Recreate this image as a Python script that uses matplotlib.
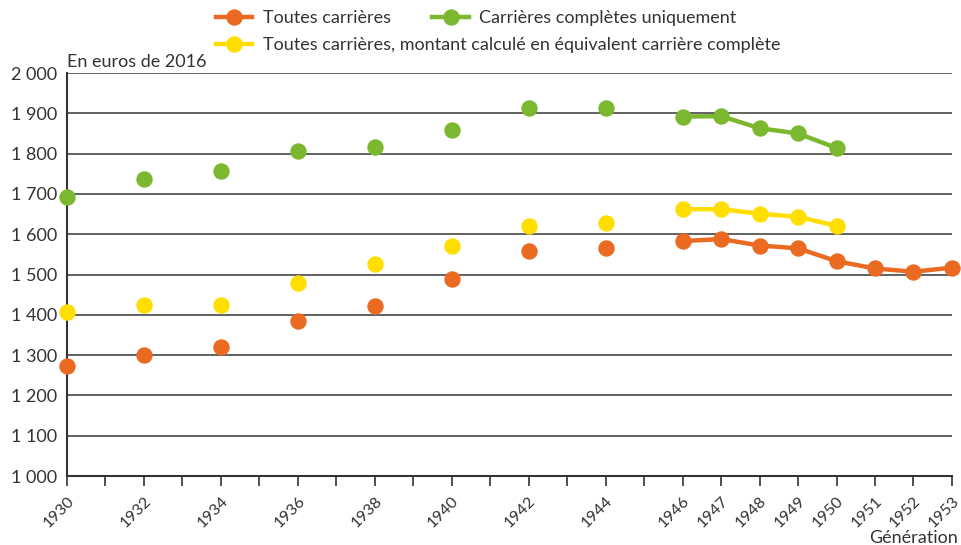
import numpy as np
import matplotlib
matplotlib.use("Agg")
import matplotlib.pyplot as plt
from matplotlib.lines import Line2D

plt.rcParams['font.family'] = ['Lato', 'DejaVu Sans']

years = [1930, 1932, 1934, 1936, 1938, 1940, 1942, 1944,
         1946, 1947, 1948, 1949, 1950, 1951, 1952, 1953]
toutes = [1273, 1300, 1321, 1384, 1421, 1490, 1559, 1566,
          1583, 1588, 1572, 1565, 1533, 1515, 1507, 1517]
completes = [1692, 1737, 1757, 1806, 1816, 1858, 1913, 1913,
             1892, 1893, 1863, 1850, 1814, np.nan, np.nan, np.nan]
equivalent = [1408, 1425, 1424, 1480, 1525, 1572, 1621, 1627,
              1662, 1662, 1651, 1643, 1621, np.nan, np.nan, np.nan]

labels = ["Toutes carrières",
          "Carrières complètes uniquement",
          "Toutes carrières, montant calculé en équivalent carrière complète"]
colors = ["#EB6A22", "#7CB82F", "#FFDE00"]

yticks = [1000, 1100, 1200, 1300, 1400, 1500, 1600, 1700, 1800, 1900, 2000]
ytick_labels = ["1 000", "1 100", "1 200", "1 300", "1 400", "1 500",
                "1 600", "1 700", "1 800", "1 900", "2 000"]
xtick_labels = [1930, 1932, 1934, 1936, 1938, 1940, 1942, 1944,
                1946, 1947, 1948, 1949, 1950, 1951, 1952, 1953]

txt = "#333333"
FS = 13
fig = plt.figure(figsize=(9.61, 5.45), dpi=100)
ax = fig.add_axes([0.0697, 0.1266, 0.9209, 0.7394])

yrs = np.array(years)
line_mask = yrs >= 1946
for vals, c in zip([completes, equivalent, toutes], [colors[1], colors[2], colors[0]]):
    v = np.array(vals, dtype=float)
    ax.plot(yrs[line_mask], v[line_mask], color=c, lw=3.2, zorder=3, clip_on=False)
    ax.plot(yrs, v, ls='none', marker='o', ms=10.8, color=c, mec=c, zorder=4, clip_on=False)

ax.set_xlim(1930, 1953)
ax.set_ylim(1000, 2000)
ax.set_yticks(yticks)
ax.set_yticklabels(ytick_labels)
ax.set_xticks(np.arange(1930, 1954), minor=False)
ax.set_xticklabels([str(y) if y in xtick_labels else "" for y in range(1930, 1954)],
                   rotation=45, ha='right', rotation_mode='anchor')
ax.tick_params(axis='x', length=7, width=1.2, color='#333333', labelsize=11.5,
               labelcolor=txt, pad=6, direction='out')
ax.tick_params(axis='y', length=0, labelsize=FS, labelcolor=txt, pad=7)
for lab in ax.get_xticklabels():
    x, y = lab.get_position()

for y in yticks[1:]:
    ax.axhline(y, color='#555555', lw=1.3, zorder=1)
for s in ['top', 'right']:
    ax.spines[s].set_visible(False)
ax.spines['left'].set_color('#333333')
ax.spines['left'].set_linewidth(1.5)
ax.spines['bottom'].set_color('#333333')
ax.spines['bottom'].set_linewidth(1.5)

fig.text(67/961, 1 - 62/545, "En euros de 2016", fontsize=FS, color=txt,
         ha='left', va='center')
fig.text(958/961, 1 - 538/545, "Génération", fontsize=FS, color=txt,
         ha='right', va='center')

def handle(c):
    return Line2D([], [], color=c, lw=3.2, marker='o', ms=10.8, mec=c)

leg1 = fig.legend([handle(colors[0]), handle(colors[1])], labels[:2],
                  ncol=2, loc='upper left', bbox_to_anchor=(216/961, 1 - 10/545),
                  frameon=False, fontsize=FS, handlelength=2.0, handletextpad=0.6,
                  columnspacing=2.3, borderpad=0, borderaxespad=0)
for t in leg1.get_texts():
    t.set_color(txt)
leg2 = fig.legend([handle(colors[2])], labels[2:],
                  loc='upper left', bbox_to_anchor=(216/961, 1 - 37/545),
                  frameon=False, fontsize=FS, handlelength=2.0, handletextpad=0.6,
                  borderpad=0, borderaxespad=0)
for t in leg2.get_texts():
    t.set_color(txt)

fig.savefig("out.png", dpi=100)
